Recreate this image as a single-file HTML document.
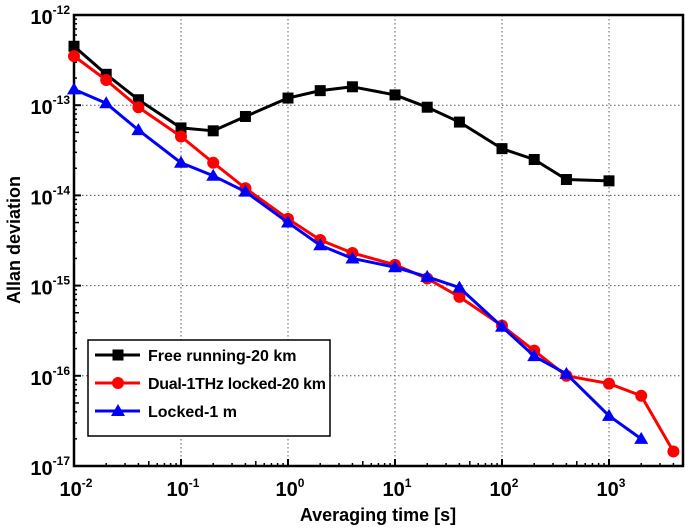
<!DOCTYPE html>
<html><head><meta charset="utf-8"><style>
body{margin:0;background:#fff}
svg{display:block;font-family:"Liberation Sans",Arial,sans-serif;font-weight:bold}
</style></head><body>
<svg id="c" width="685" height="529"></svg>
<script>
const freeX=[0.01,0.02,0.04,0.1,0.2,0.4,1,2,4,10,20,40,100,200,400,1000];
const freeY=[4.5e-13,2.2e-13,1.15e-13,5.6e-14,5.2e-14,7.5e-14,1.2e-13,1.45e-13,1.6e-13,1.3e-13,9.5e-14,6.5e-14,3.3e-14,2.5e-14,1.5e-14,1.45e-14];
const dualX=[0.01,0.02,0.04,0.1,0.2,0.4,1,2,4,10,20,40,100,200,400,1000,2000,4000];
const dualY=[3.5e-13,1.9e-13,9.5e-14,4.5e-14,2.3e-14,1.2e-14,5.5e-15,3.2e-15,2.3e-15,1.7e-15,1.2e-15,7.5e-16,3.6e-16,1.9e-16,1e-16,8.2e-17,6e-17,1.45e-17];
const lockX=[0.01,0.02,0.04,0.1,0.2,0.4,1,2,4,10,20,40,100,200,400,1000,2000];
const lockY=[1.5e-13,1.05e-13,5.3e-14,2.3e-14,1.65e-14,1.1e-14,5e-15,2.8e-15,2e-15,1.6e-15,1.25e-15,9.5e-16,3.5e-16,1.65e-16,1.05e-16,3.6e-17,2e-17];
const xTickExp=[-2,-1,0,1,2,3];
const yTickExp=[-17,-16,-15,-14,-13,-12];
const L=74,R=683,T=15,B=466,XD=107,YD=90.2;
const sx=v=>L+(Math.log10(v)+2)*XD;
const sy=v=>B-(Math.log10(v)+17)*YD;
const svg=document.getElementById('c');const NS='http://www.w3.org/2000/svg';
function el(t,a,p){const e=document.createElementNS(NS,t);for(const k in a)e.setAttribute(k,a[k]);(p||svg).appendChild(e);return e;}
xTickExp.forEach(e=>{const x=sx(Math.pow(10,e));if(e>-2){const g=el('line',{x1:x,x2:x,y1:T,y2:B,stroke:'#555','stroke-dasharray':'1.5,2.5','stroke-width':1});}
 const t=el('text',{x:x+2,y:B+30,'text-anchor':'middle','font-size':20});
 t.innerHTML='10<tspan dy="-9" font-size="12">'+e+'</tspan>';
 for(let m=2;m<10;m++){const xm=sx(m*Math.pow(10,e));if(xm<R){el('line',{x1:xm,x2:xm,y1:B,y2:B-(m==5?5:3),stroke:'#000','stroke-width':1.5});}}
 el('line',{x1:x,x2:x,y1:B,y2:B-7,stroke:'#000','stroke-width':2});
});
yTickExp.forEach(e=>{const y=sy(Math.pow(10,e));if(e>-17&&e<-12){const g=el('line',{x1:L,x2:R,y1:y,y2:y,stroke:'#555','stroke-dasharray':'1.5,2.5','stroke-width':1});}
 const t=el('text',{x:L-4,y:y+9,'text-anchor':'end','font-size':20});
 t.innerHTML='10<tspan dy="-10" font-size="12">'+e+'</tspan>';
 if(e<-12)for(let m=2;m<10;m++){const ym=sy(m*Math.pow(10,e));el('line',{x1:L,x2:L+(m==5?5:3),y1:ym,y2:ym,stroke:'#000','stroke-width':1.5});}
 el('line',{x1:L,x2:L+7,y1:y,y2:y,stroke:'#000','stroke-width':2});
});
const fr=el('rect',{x:L,y:T,width:R-L,height:B-T,fill:'none',stroke:'#000','stroke-width':2.5});

function marker(type,x,y,c,g){if(type=='s')el('rect',{x:x-5.5,y:y-5.5,width:11,height:11,fill:c},g);
 else if(type=='c')el('circle',{cx:x,cy:y,r:6,fill:c},g);
 else el('polygon',{points:`${x},${y-7} ${x-7},${y+5} ${x+7},${y+5}`,fill:c},g);}
function series(xs,ys,c,type,name){const g=el('g',{});
 el('polyline',{points:xs.map((x,i)=>sx(x)+','+sy(ys[i])).join(' '),fill:'none',stroke:c,'stroke-width':3,'stroke-linejoin':'round'},g);
 xs.forEach((x,i)=>marker(type,sx(x),sy(ys[i]),c,g));}
series(freeX,freeY,'#000','s','free-running-series');
series(dualX,dualY,'#f00','c','dual-locked-series');
series(lockX,lockY,'#00f','t','locked-1m-series');
const lg=el('g',{});
el('rect',{x:88,y:340,width:242,height:96,fill:'#fff',stroke:'#000','stroke-width':1.5},lg);
[['Free running-20 km','#000','s'],['Dual-1THz locked-20 km','#f00','c'],['Locked-1 m','#00f','t']].forEach((d,i)=>{
 const y=355+i*28;const g=el('g',{},lg);
 el('line',{x1:95,x2:140,y1:y,y2:y,stroke:d[1],'stroke-width':3},g);marker(d[2],118,y,d[1],g);
 const t=el('text',{x:148,y:y+6,'font-size':16,textLength:i==1?178:null},g);if(i!=1)t.removeAttribute('textLength');t.textContent=d[0];});
const xt=el('text',{x:378,y:521,'text-anchor':'middle','font-size':18});xt.textContent='Averaging time [s]';

const yt=el('text',{x:20,y:240,'text-anchor':'middle','font-size':18,transform:'rotate(-90 20 240)'});yt.textContent='Allan deviation';

</script></body></html>
